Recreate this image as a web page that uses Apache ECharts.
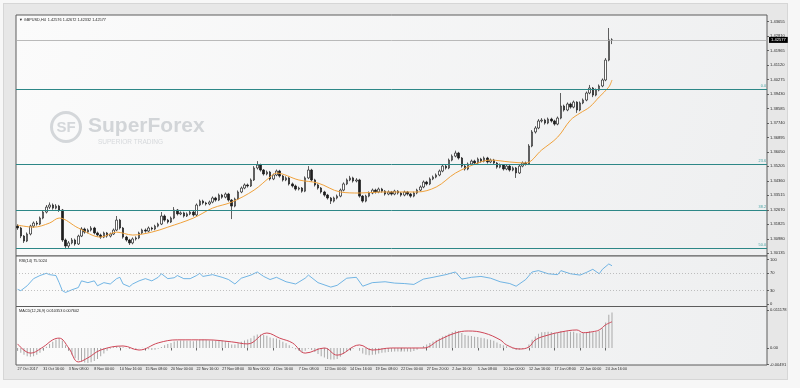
<!DOCTYPE html>
<html><head><meta charset="utf-8">
<script src="https://cdn.jsdelivr.net/npm/echarts@6/dist/echarts.min.js"></script>
<style>
html,body{margin:0;padding:0;background:#f7f7f7;}
#frame{position:absolute;left:3px;top:3px;width:783px;height:375px;background:#e7e7e7;border:1px solid #d6d6d6;}
#c{position:absolute;left:0;top:0;width:800px;height:388px;}
</style>
</head><body><div id="frame"></div><div id="c"></div>
<script>
const dateTicks = ['27 Oct 2017','31 Oct 16:00','3 Nov 08:00','8 Nov 00:00','10 Nov 16:00','15 Nov 08:00','20 Nov 00:00','22 Nov 16:00','27 Nov 08:00','30 Nov 00:00','4 Dec 16:00','7 Dec 08:00','12 Dec 00:00','14 Dec 16:00','19 Dec 08:00','22 Dec 00:00','27 Dec 20:00','2 Jan 16:00','5 Jan 08:00','10 Jan 00:00','12 Jan 16:00','17 Jan 08:00','22 Jan 00:00','24 Jan 16:00'];

const priceTicks = [1.30135,1.30980,1.31825,1.32670,1.33515,1.34360,1.35205,1.36050,1.36895,1.37740,1.38585,1.39430,1.40275,1.41120,1.41965,1.42810,1.43655];
const rsiTicks = [0,30,70,100];
const macdTicks = [-0.00491,0,0.011178];
const macdTickText = ['-0.00491','0.00','0.011178'];

const fibLevels = [['0.0',1.3971],['23.6',1.3534],['38.2',1.3264],['50.0',1.3045]];
const lastPrice = 1.42577;

// [open, close, low, high]
const candles = [
[1.3172,1.3161,1.3150,1.3183],[1.3161,1.3114,1.3102,1.3168],[1.3114,1.3085,1.3074,1.3120],[1.3085,1.3126,1.3079,1.3135],
[1.3126,1.3172,1.3118,1.3180],[1.3172,1.3190,1.3162,1.3199],[1.3190,1.3184,1.3175,1.3202],[1.3184,1.3219,1.3178,1.3228],
[1.3219,1.3254,1.3212,1.3263],[1.3254,1.3283,1.3246,1.3295],[1.3283,1.3295,1.3272,1.3310],[1.3295,1.3277,1.3268,1.3304],
[1.3277,1.3289,1.3270,1.3300],[1.3289,1.3266,1.3255,1.3296],[1.3266,1.3091,1.3080,1.3272],[1.3091,1.3056,1.3038,1.3100],
[1.3056,1.3074,1.3045,1.3085],[1.3074,1.3091,1.3066,1.3103],[1.3091,1.3068,1.3058,1.3099],[1.3068,1.3114,1.3062,1.3122],
[1.3114,1.3155,1.3108,1.3166],[1.3155,1.3137,1.3128,1.3163],[1.3137,1.3149,1.3130,1.3158],[1.3149,1.3161,1.3141,1.3172],
[1.3161,1.3132,1.3124,1.3168],[1.3132,1.3120,1.3111,1.3140],[1.3120,1.3108,1.3098,1.3128],[1.3108,1.3132,1.3102,1.3140],
[1.3132,1.3114,1.3105,1.3138],[1.3114,1.3126,1.3106,1.3134],[1.3126,1.3149,1.3120,1.3158],[1.3149,1.3207,1.3143,1.3231],
[1.3207,1.3161,1.3152,1.3214],[1.3161,1.3108,1.3099,1.3167],[1.3108,1.3091,1.3082,1.3115],[1.3091,1.3074,1.3062,1.3098],
[1.3074,1.3097,1.3066,1.3106],[1.3097,1.3103,1.3088,1.3112],[1.3103,1.3132,1.3096,1.3140],[1.3132,1.3149,1.3125,1.3157],
[1.3149,1.3143,1.3134,1.3158],[1.3143,1.3161,1.3136,1.3170],[1.3161,1.3155,1.3146,1.3168],[1.3155,1.3172,1.3148,1.3180],
[1.3172,1.3184,1.3165,1.3192],[1.3184,1.3231,1.3178,1.3254],[1.3231,1.3207,1.3198,1.3240],[1.3207,1.3196,1.3187,1.3214],
[1.3196,1.3219,1.3190,1.3228],[1.3219,1.3266,1.3212,1.3283],[1.3266,1.3243,1.3234,1.3272],[1.3243,1.3249,1.3236,1.3258],
[1.3249,1.3231,1.3222,1.3256],[1.3231,1.3243,1.3225,1.3252],[1.3243,1.3254,1.3236,1.3263],[1.3254,1.3237,1.3228,1.3262],
[1.3237,1.3295,1.3231,1.3304],[1.3295,1.3318,1.3288,1.3327],[1.3318,1.3307,1.3298,1.3326],[1.3307,1.3301,1.3292,1.3314],
[1.3301,1.3312,1.3294,1.3321],[1.3312,1.3336,1.3305,1.3345],[1.3336,1.3324,1.3315,1.3343],[1.3324,1.3353,1.3318,1.3362],
[1.3353,1.3341,1.3332,1.3360],[1.3341,1.3359,1.3334,1.3368],[1.3359,1.3324,1.3315,1.3366],[1.3324,1.3289,1.3213,1.3330],
[1.3289,1.3330,1.3282,1.3338],[1.3330,1.3371,1.3324,1.3380],[1.3371,1.3394,1.3364,1.3403],[1.3394,1.3412,1.3387,1.3421],
[1.3412,1.3406,1.3397,1.3420],[1.3406,1.3441,1.3400,1.3450],[1.3441,1.3511,1.3435,1.3522],[1.3511,1.3528,1.3502,1.3551],
[1.3528,1.3499,1.3490,1.3536],[1.3499,1.3476,1.3467,1.3505],[1.3476,1.3487,1.3468,1.3496],[1.3487,1.3447,1.3438,1.3494],
[1.3447,1.3470,1.3440,1.3478],[1.3470,1.3493,1.3463,1.3502],[1.3493,1.3464,1.3455,1.3500],[1.3464,1.3441,1.3432,1.3470],
[1.3441,1.3453,1.3434,1.3462],[1.3453,1.3418,1.3409,1.3460],[1.3418,1.3406,1.3397,1.3426],[1.3406,1.3388,1.3379,1.3414],
[1.3388,1.3394,1.3380,1.3402],[1.3394,1.3376,1.3367,1.3400],[1.3376,1.3453,1.3370,1.3462],[1.3453,1.3499,1.3446,1.3522],
[1.3499,1.3441,1.3432,1.3506],[1.3441,1.3412,1.3403,1.3448],[1.3412,1.3394,1.3385,1.3420],[1.3394,1.3371,1.3362,1.3400],
[1.3371,1.3353,1.3344,1.3378],[1.3353,1.3336,1.3327,1.3360],[1.3336,1.3318,1.3301,1.3342],[1.3318,1.3336,1.3310,1.3344],
[1.3336,1.3347,1.3328,1.3356],[1.3347,1.3382,1.3340,1.3391],[1.3382,1.3418,1.3375,1.3427],[1.3418,1.3441,1.3411,1.3450],
[1.3441,1.3453,1.3434,1.3465],[1.3453,1.3435,1.3426,1.3460],[1.3435,1.3441,1.3427,1.3452],[1.3441,1.3347,1.3338,1.3448],
[1.3347,1.3318,1.3309,1.3353],[1.3318,1.3347,1.3311,1.3355],[1.3347,1.3365,1.3340,1.3374],[1.3365,1.3382,1.3358,1.3391],
[1.3382,1.3371,1.3362,1.3390],[1.3371,1.3388,1.3364,1.3397],[1.3388,1.3376,1.3367,1.3395],[1.3376,1.3359,1.3350,1.3382],
[1.3359,1.3371,1.3352,1.3380],[1.3371,1.3359,1.3350,1.3377],[1.3359,1.3376,1.3352,1.3384],[1.3376,1.3365,1.3356,1.3382],
[1.3365,1.3353,1.3344,1.3371],[1.3353,1.3371,1.3346,1.3379],[1.3371,1.3359,1.3350,1.3377],[1.3359,1.3347,1.3338,1.3365],
[1.3347,1.3365,1.3340,1.3373],[1.3365,1.3382,1.3358,1.3390],[1.3382,1.3400,1.3375,1.3409],[1.3400,1.3429,1.3393,1.3438],
[1.3429,1.3418,1.3409,1.3436],[1.3418,1.3447,1.3411,1.3456],[1.3447,1.3458,1.3440,1.3467],[1.3458,1.3470,1.3451,1.3479],
[1.3470,1.3493,1.3463,1.3502],[1.3493,1.3522,1.3486,1.3531],[1.3522,1.3511,1.3502,1.3529],[1.3511,1.3557,1.3504,1.3566],
[1.3557,1.3580,1.3550,1.3590],[1.3580,1.3598,1.3573,1.3612],[1.3598,1.3569,1.3560,1.3605],[1.3569,1.3522,1.3513,1.3575],
[1.3522,1.3505,1.3496,1.3530],[1.3505,1.3534,1.3498,1.3543],[1.3534,1.3551,1.3527,1.3560],[1.3551,1.3540,1.3531,1.3559],
[1.3540,1.3563,1.3533,1.3572],[1.3563,1.3551,1.3542,1.3570],[1.3551,1.3569,1.3544,1.3578],[1.3569,1.3546,1.3537,1.3576],
[1.3546,1.3557,1.3539,1.3566],[1.3557,1.3540,1.3531,1.3564],[1.3540,1.3516,1.3507,1.3546],[1.3516,1.3528,1.3509,1.3537],
[1.3528,1.3505,1.3496,1.3534],[1.3505,1.3522,1.3498,1.3531],[1.3522,1.3499,1.3490,1.3528],[1.3499,1.3511,1.3492,1.3520],
[1.3511,1.3482,1.3453,1.3517],[1.3482,1.3522,1.3476,1.3530],[1.3522,1.3540,1.3515,1.3549],[1.3540,1.3534,1.3525,1.3548],
[1.3534,1.3639,1.3528,1.3650],[1.3639,1.3721,1.3632,1.3732],[1.3721,1.3744,1.3712,1.3755],[1.3744,1.3785,1.3737,1.3796],
[1.3785,1.3790,1.3776,1.3802],[1.3790,1.3773,1.3764,1.3798],[1.3773,1.3796,1.3766,1.3805],[1.3796,1.3785,1.3776,1.3804],
[1.3785,1.3767,1.3758,1.3792],[1.3767,1.3802,1.3760,1.3811],[1.3802,1.3872,1.3795,1.3948],[1.3872,1.3849,1.3840,1.3880],
[1.3849,1.3884,1.3842,1.3893],[1.3884,1.3866,1.3857,1.3892],[1.3866,1.3895,1.3859,1.3904],[1.3895,1.3849,1.3832,1.3900],
[1.3849,1.3890,1.3842,1.3899],[1.3890,1.3907,1.3883,1.3916],[1.3907,1.3948,1.3900,1.3957],[1.3948,1.3977,1.3941,1.3995],
[1.3977,1.3936,1.3924,1.3983],[1.3936,1.3965,1.3929,1.3974],[1.3965,1.3989,1.3958,1.3998],[1.3989,1.4024,1.3982,1.4033],
[1.4024,1.4140,1.4017,1.4152],[1.4140,1.4258,1.4133,1.4327],[1.42576,1.42577,1.42332,1.42672]
];

// moving average, read as [bar index, value]
const maPoints = [[0,1.3178],[5,1.3166],[10,1.3190],[13,1.3219],[19,1.3161],[26,1.3108],[31,1.3137],[36,1.3120],[42,1.3137],[47,1.3166],[55,1.3219],[61,1.3277],[67,1.3312],[74,1.3382],[79,1.3458],[81,1.3481],[88,1.3441],[94,1.3423],[101,1.3371],[107,1.3365],[114,1.3371],[125,1.3371],[131,1.3400],[137,1.3481],[144,1.3540],[148,1.3557],[154,1.3546],[159,1.3540],[164,1.3616],[169,1.3691],[173,1.3790],[176,1.3831],[179,1.3866],[182,1.3925],[185,1.3983],[186,1.4024]];

const rsiPoints = [[0,33],[1,30],[3,41],[5,57],[7,64],[9,69],[10,66],[12,64],[13,48],[14,30],[15,26],[17,32],[19,37],[20,52],[22,48],[24,52],[25,41],[27,48],[29,45],[31,57],[32,60],[33,45],[35,39],[36,45],[38,52],[40,57],[42,52],[44,60],[45,68],[47,57],[49,59],[50,64],[52,57],[54,57],[56,64],[57,69],[58,62],[61,66],[64,60],[66,55],[68,45],[70,58],[73,65],[75,72],[77,62],[79,55],[81,60],[84,50],[87,45],[90,58],[91,65],[94,48],[98,38],[100,42],[103,58],[106,60],[108,40],[111,48],[115,50],[118,47],[121,46],[124,44],[127,56],[130,60],[134,66],[137,72],[139,56],[142,60],[145,62],[148,58],[151,50],[154,46],[156,40],[159,55],[161,72],[163,75],[166,68],[169,66],[170,75],[173,68],[176,65],[178,71],[180,78],[182,68],[183,78],[185,90],[186,86]];

const macdHist = [-0.0008,-0.0014,-0.0020,-0.0024,-0.0026,-0.0024,-0.0020,-0.0014,-0.0006,0.0004,0.0012,0.0018,0.0024,0.0028,0.0022,0.0008,-0.0008,-0.0020,-0.0030,-0.0036,-0.0040,-0.0043,-0.0044,-0.0042,-0.0038,-0.0032,-0.0024,-0.0016,-0.0008,-0.0002,0.0002,0.0005,0.0004,0.0002,-0.0001,-0.0003,-0.0004,-0.0003,-0.0001,0.0001,-0.0002,-0.0004,-0.0006,-0.0005,-0.0002,0.0003,0.0008,0.0012,0.0015,0.0019,0.0021,0.0022,0.0022,0.0021,0.0021,0.0020,0.0022,0.0024,0.0025,0.0024,0.0022,0.0022,0.0021,0.0022,0.0021,0.0020,0.0016,0.0010,0.0010,0.0014,0.0018,0.0022,0.0025,0.0029,0.0036,0.0040,0.0040,0.0038,0.0036,0.0031,0.0029,0.0028,0.0024,0.0018,0.0014,0.0008,0.0002,-0.0004,-0.0008,-0.0012,-0.0008,-0.0002,-0.0006,-0.0012,-0.0018,-0.0024,-0.0028,-0.0032,-0.0034,-0.0034,-0.0032,-0.0026,-0.0018,-0.0010,-0.0004,-0.0002,0.0000,-0.0008,-0.0016,-0.0020,-0.0021,-0.0020,-0.0019,-0.0016,-0.0014,-0.0013,-0.0012,-0.0011,-0.0010,-0.0010,-0.0011,-0.0010,-0.0010,-0.0011,-0.0009,-0.0005,0.0000,0.0006,0.0010,0.0015,0.0019,0.0023,0.0028,0.0034,0.0037,0.0042,0.0047,0.0051,0.0050,0.0044,0.0038,0.0036,0.0035,0.0033,0.0032,0.0030,0.0029,0.0026,0.0024,0.0021,0.0016,0.0012,0.0008,0.0005,0.0001,-0.0002,-0.0006,-0.0005,-0.0002,0.0000,0.0010,0.0024,0.0034,0.0042,0.0046,0.0047,0.0048,0.0047,0.0045,0.0045,0.0050,0.0049,0.0049,0.0048,0.0048,0.0043,0.0043,0.0044,0.0046,0.0049,0.0046,0.0047,0.0050,0.0058,0.0075,0.0098,0.0104];

const macdSignal = [[0,0.0012],[4,-0.0015],[8,0.0003],[11,0.0024],[13,0.0029],[16,0.0000],[19,-0.0041],[22,-0.0029],[26,-0.0006],[33,0.0006],[38,-0.0006],[44,0.0015],[50,0.0024],[59,0.0024],[67,0.0018],[72,0.0012],[78,0.0044],[82,0.0029],[86,0.0015],[90,-0.0015],[96,0.0000],[100,-0.0021],[107,0.0009],[111,-0.0006],[117,0.0000],[127,0.0000],[132,0.0024],[137,0.0044],[141,0.0050],[146,0.0044],[151,0.0024],[153,0.0009],[157,-0.0003],[160,0.0003],[162,0.0024],[166,0.0038],[170,0.0047],[175,0.0053],[177,0.0045],[180,0.0048],[182,0.0053],[184,0.0068],[186,0.0077]];

const headerText = '\u25BC GBPUSD,H4  1.42576 1.42672 1.42332 1.42577';
const rsiText = 'RSI(14) 75.5024';
const macdText = 'MACD(12,26,9) 0.010353 0.007602';

const TOTAL = 235;
const FONT = 'Liberation Sans';
const TXT = '#2b2b2b';
const FIB = '#2d8787';
const cats = Array.from({length: TOTAL}, (_, i) => (i % 8 === 0 && i / 8 < dateTicks.length) ? dateTicks[i / 8] : '');
const isTick = i => i % 8 === 0 && i / 8 < dateTicks.length;

const chart = echarts.init(document.getElementById('c'));
const bg = new echarts.graphic.LinearGradient(0, 0, 1, 1, [{offset: 0, color: '#fbfbfb'}, {offset: 1, color: '#eeeff0'}]);
const gridBase = {left: 16, right: 33, show: true, borderColor: '#5c5c5c', borderWidth: 1, backgroundColor: bg};
const hiddenX = idx => ({type: 'category', gridIndex: idx, data: cats, boundaryGap: true, axisLine: {show: false}, axisTick: {show: false}, axisLabel: {show: false}, splitLine: {show: false}});

const fibMarks = fibLevels.map(f => ({yAxis: f[1], lineStyle: {color: FIB, width: 1, type: 'solid', opacity: 1},
    label: {show: true, position: 'insideEndTop', formatter: f[0], color: '#46a3a3', fontSize: 3.8, distance: 1, fontFamily: FONT}}));
const priceMark = [{yAxis: lastPrice, lineStyle: {color: '#a9a9a9', width: 0.8, type: 'solid'},
    label: {show: true, position: 'end', formatter: lastPrice.toFixed(5), backgroundColor: '#000', color: '#fff', fontSize: 4.1, padding: [1, 2, 1, 2], distance: 2, fontFamily: FONT}}];

const option = {
  animation: false,
  grid: [
    Object.assign({top: 15, height: 241}, gridBase),
    Object.assign({top: 256, height: 50.5}, gridBase),
    Object.assign({top: 306.5, height: 58.5}, gridBase)
  ],
  xAxis: [
    hiddenX(0), hiddenX(1),
    {type: 'category', gridIndex: 2, data: cats, boundaryGap: true, axisLine: {show: false},
     axisTick: {show: true, interval: (i) => isTick(i), alignWithLabel: true, length: 2.5, lineStyle: {color: '#444', width: 0.8}},
     axisLabel: {show: true, interval: (i) => isTick(i), align: 'left', margin: 2, fontSize: 3.7, color: TXT, fontFamily: FONT},
     splitLine: {show: false}}
  ],
  yAxis: [
    {type: 'value', gridIndex: 0, position: 'right', min: 1.29978, max: 1.44029, axisLine: {show: false}, splitLine: {show: false},
     axisTick: {show: true, length: 2, customValues: priceTicks, lineStyle: {color: '#444', width: 0.8}},
     axisLabel: {customValues: priceTicks, formatter: v => v.toFixed(5), fontSize: 4.1, color: TXT, margin: 3, fontFamily: FONT}},
    {type: 'value', gridIndex: 1, position: 'right', min: -5.6, max: 107.9, axisLine: {show: false}, splitLine: {show: false},
     axisTick: {show: true, length: 2, customValues: rsiTicks, lineStyle: {color: '#444', width: 0.8}},
     axisLabel: {customValues: rsiTicks, formatter: v => String(v), fontSize: 4.1, color: TXT, margin: 3, fontFamily: FONT}},
    {type: 'value', gridIndex: 2, position: 'right', min: -0.0050, max: 0.0122, axisLine: {show: false}, splitLine: {show: false},
     axisTick: {show: true, length: 2, customValues: macdTicks, lineStyle: {color: '#444', width: 0.8}},
     axisLabel: {customValues: macdTicks, formatter: v => { const k = macdTicks.findIndex(t => Math.abs(t - v) < 1e-9); return k >= 0 ? macdTickText[k] : ''; }, fontSize: 4.1, color: TXT, margin: 3, fontFamily: FONT}}
  ],
  graphic: [
    {type: 'circle', z: 1, shape: {cx: 66, cy: 127, r: 14.5}, style: {fill: 'none', stroke: '#d4d7da', lineWidth: 3}},
    {type: 'text', z: 1, x: 66, y: 128, style: {text: 'SF', fill: '#d4d7da', font: 'bold 15px "Liberation Sans"', align: 'center', verticalAlign: 'middle'}},
    {type: 'text', z: 1, x: 88, y: 126, style: {text: 'SuperForex', fill: '#d2d5d8', font: '600 21px "Liberation Sans"', verticalAlign: 'middle'}},
    {type: 'text', z: 1, x: 98, y: 142, style: {text: 'SUPERIOR TRADING', fill: '#d6d9dc', font: '6.5px "Liberation Sans"', verticalAlign: 'middle'}},
    {type: 'text', z: 5, x: 19, y: 20, style: {text: headerText, fill: '#222', font: '3.8px "Liberation Sans"', verticalAlign: 'middle'}},
    {type: 'text', z: 5, x: 19, y: 261, style: {text: rsiText, fill: '#222', font: '3.8px "Liberation Sans"', verticalAlign: 'middle'}},
    {type: 'text', z: 5, x: 19, y: 311, style: {text: macdText, fill: '#222', font: '3.8px "Liberation Sans"', verticalAlign: 'middle'}}
  ],
  series: [
    {type: 'candlestick', xAxisIndex: 0, yAxisIndex: 0, data: candles, barWidth: 2,
     itemStyle: {color: '#ffffff', color0: '#1e1e1e', borderColor: '#1e1e1e', borderColor0: '#1e1e1e', borderWidth: 0.7}},
    {type: 'line', xAxisIndex: 0, yAxisIndex: 0, data: maPoints, smooth: 0.35, showSymbol: false, lineStyle: {color: '#f0a23c', width: 1},
     markLine: {symbol: 'none', silent: true, animation: false, precision: 5, lineStyle: {color: FIB, width: 1, type: 'solid'}, data: fibMarks.concat(priceMark)}},
    {type: 'line', xAxisIndex: 1, yAxisIndex: 1, data: rsiPoints, showSymbol: false, lineStyle: {color: '#4fa3de', width: 0.8},
     markLine: {symbol: 'none', silent: true, precision: 2, label: {show: false},
       data: [{yAxis: 70}, {yAxis: 30}], lineStyle: {color: '#9a9a9a', width: 0.6, type: [1, 2]}}},
    {type: 'bar', xAxisIndex: 2, yAxisIndex: 2, data: macdHist, barWidth: 1, itemStyle: {color: '#a9a9a9'}},
    {type: 'line', xAxisIndex: 2, yAxisIndex: 2, data: macdSignal, smooth: 0.4, showSymbol: false, lineStyle: {color: '#cf4657', width: 1}}
  ]
};
chart.setOption(option);
</script></body></html>
